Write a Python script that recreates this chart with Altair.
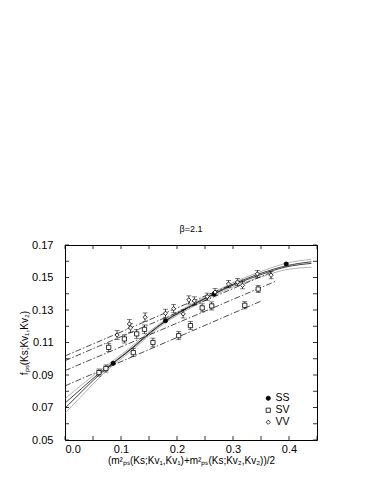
import altair as alt
import pandas as pd

# ---- data ----
ss_x = [0.086, 0.1795, 0.266, 0.395]
ss_y = [0.0972, 0.1234, 0.1399, 0.1583]

sv_x = [0.0606, 0.073, 0.078, 0.106, 0.122, 0.128, 0.142, 0.157, 0.203, 0.224, 0.245, 0.262, 0.321, 0.345]
sv_y = [0.0915, 0.094, 0.107, 0.1122, 0.1038, 0.1153, 0.1181, 0.110, 0.1142, 0.1204, 0.1313, 0.1325, 0.1329, 0.1429]
sv_e = [0.0022, 0.0022, 0.0025, 0.0025, 0.0025, 0.0027, 0.0027, 0.0027, 0.0025, 0.0025, 0.0025, 0.0025, 0.0022, 0.0022]

vv_x = [0.093, 0.115, 0.117, 0.143, 0.1795, 0.194, 0.211, 0.221, 0.231, 0.254, 0.268, 0.292, 0.308, 0.317, 0.3435, 0.368]
vv_y = [0.1146, 0.1214, 0.119, 0.1255, 0.128, 0.1308, 0.1276, 0.1362, 0.1356, 0.1382, 0.141, 0.146, 0.1472, 0.1452, 0.1522, 0.1514]
vv_e = [0.0027, 0.0027, 0.0027, 0.0027, 0.0025, 0.0025, 0.0025, 0.0025, 0.0025, 0.0022, 0.0022, 0.0022, 0.0022, 0.0022, 0.0022, 0.0022]

# fit curves through SS points
curve_x = [0.0, 0.03, 0.06, 0.086, 0.12, 0.15, 0.18, 0.22, 0.266, 0.30, 0.35, 0.395, 0.44]
curve_a = [0.0727, 0.0818, 0.0908, 0.0976, 0.1068, 0.1157, 0.1236, 0.1318, 0.1401, 0.1458, 0.1526, 0.1572, 0.1597]
curve_b = [0.0696, 0.0798, 0.0898, 0.0972, 0.1063, 0.1152, 0.1232, 0.1313, 0.1397, 0.1452, 0.1518, 0.1565, 0.1587]
band_hi = [0.0753, 0.0840, 0.0922, 0.0988, 0.1078, 0.1166, 0.1243, 0.1325, 0.1409, 0.1468, 0.1537, 0.1588, 0.1612]
band_lo = [0.0665, 0.0772, 0.0880, 0.0960, 0.1052, 0.1143, 0.1224, 0.1304, 0.1388, 0.1442, 0.1504, 0.1548, 0.1563]

# straight dash-dot fits (start x, start y, end x, end y)
lin_id = ["L1", "L1", "L2", "L2", "L3", "L3", "L4", "L4"]
lin_x = [0.0, 0.32, 0.0, 0.37, 0.0, 0.377, 0.0, 0.351]
lin_y = [0.1017, 0.149, 0.0988, 0.1535, 0.0927, 0.1478, 0.0833, 0.1356]

x_ticks = [0.0, 0.05, 0.1, 0.15, 0.2, 0.25, 0.3, 0.35, 0.4, 0.45]
y_ticks = [0.05, 0.06, 0.07, 0.08, 0.09, 0.10, 0.11, 0.12, 0.13, 0.14, 0.15, 0.16, 0.17]
x_labels = [0.0, 0.1, 0.2, 0.3, 0.4]
y_labels = [0.05, 0.07, 0.09, 0.11, 0.13, 0.15, 0.17]

W, H = 252, 195
FONT = "Liberation Sans"

pts = pd.DataFrame({
    "x": ss_x + sv_x + vv_x,
    "y": ss_y + sv_y + vv_y,
    "e": [0.0] * len(ss_x) + sv_e + vv_e,
    "type": ["SS"] * len(ss_x) + ["SV"] * len(sv_x) + ["VV"] * len(vv_x),
})
pts["lo"] = pts["y"] - pts["e"]
pts["hi"] = pts["y"] + pts["e"]
errs = pts[pts["e"] > 0]

curves = pd.DataFrame({
    "x": curve_x * 4,
    "y": curve_a + curve_b + band_hi + band_lo,
    "c": ["A"] * 13 + ["B"] * 13 + ["H"] * 13 + ["L"] * 13,
})
lines = pd.DataFrame({"x": lin_x, "y": lin_y, "id": lin_id})
xt = pd.DataFrame({"t": x_ticks})
yt = pd.DataFrame({"t": y_ticks})

xscale = alt.Scale(domain=[0, 0.45], nice=False, zero=False)
yscale = alt.Scale(domain=[0.05, 0.17], nice=False, zero=False)

xtitle = "(m²ₚₛ(Ks;Kv₁,Kv₁)+m²ₚₛ(Ks;Kv₂,Kv₂))/2"
ytitle = "fₚₛ(Ks;Kv₁,Kv₂)"

xaxis = alt.Axis(values=x_labels, format=".1f", domain=False, ticks=False, grid=False,
                 labelFont=FONT, labelFontSize=11, labelColor="black", labelPadding=3,
                 title=xtitle, titleFont=FONT, titleFontSize=10, titleFontWeight="normal",
                 titleColor="black", titlePadding=1)
yaxis = alt.Axis(values=y_labels, format=".2f", domain=False, ticks=False, grid=False,
                 labelFont=FONT, labelFontSize=11, labelColor="black", labelPadding=12,
                 title=ytitle, titleFont=FONT, titleFontSize=10, titleFontWeight="normal",
                 titleColor="black", titlePadding=2)


def X(f):
    return alt.X(f, type="quantitative", scale=xscale, axis=xaxis)


def Y(f):
    return alt.Y(f, type="quantitative", scale=yscale, axis=yaxis)


curve_layer = alt.Chart(curves).mark_line(interpolate="monotone").encode(
    x=X("x"), y=Y("y"), detail="c:N",
    strokeWidth=alt.condition("datum.c == 'A' || datum.c == 'B'", alt.value(0.8), alt.value(0.5)),
    stroke=alt.condition("datum.c == 'A' || datum.c == 'B'", alt.value("#111111"), alt.value("#666666")),
)

line_layer = alt.Chart(lines).mark_line(color="black", strokeWidth=0.7, strokeDash=[6, 2, 1.5, 2]).encode(
    x=X("x"), y=Y("y"), detail="id:N"
)

err_layer = alt.Chart(errs).mark_rule(color="black", strokeWidth=0.7).encode(
    x=X("x"), y=Y("lo"), y2="hi"
)
cap_lo = alt.Chart(errs).mark_tick(color="black", thickness=0.7, size=5, orient="horizontal").encode(
    x=X("x"), y=Y("lo")
)
cap_hi = alt.Chart(errs).mark_tick(color="black", thickness=0.7, size=5, orient="horizontal").encode(
    x=X("x"), y=Y("hi")
)

TYPES = ["SS", "SV", "VV"]
leg = alt.Legend(title=None, orient="none", legendX=198, legendY=148,
                 labelFont=FONT, labelFontSize=10.5, labelColor="black",
                 symbolSize=18, symbolStrokeColor="black", symbolStrokeWidth=0.8,
                 rowPadding=1, labelOffset=2)

point_layer = alt.Chart(pts).mark_point(filled=True, strokeWidth=0.8, opacity=1).encode(
    x=X("x"), y=Y("y"),
    shape=alt.Shape("type:N", scale=alt.Scale(domain=TYPES, range=["circle", "square", "diamond"]), legend=leg),
    fill=alt.Fill("type:N", scale=alt.Scale(domain=TYPES, range=["black", "white", "white"]), legend=leg),
    stroke=alt.Stroke("type:N", scale=alt.Scale(domain=TYPES, range=["black", "black", "black"]), legend=leg),
    size=alt.value(18),
)

tick_b = alt.Chart(xt).mark_rule(color="black", strokeWidth=0.8).encode(
    x=X("t"), y=alt.value(H), y2=alt.value(H - 4))
tick_t = alt.Chart(xt).mark_rule(color="black", strokeWidth=0.8).encode(
    x=X("t"), y=alt.value(0), y2=alt.value(4))
tick_l = alt.Chart(yt).mark_rule(color="black", strokeWidth=0.8).encode(
    y=Y("t"), x=alt.value(0), x2=alt.value(4))
tick_r = alt.Chart(yt).mark_rule(color="black", strokeWidth=0.8).encode(
    y=Y("t"), x=alt.value(W), x2=alt.value(W - 4))

chart = alt.layer(
    curve_layer, line_layer, err_layer, cap_lo, cap_hi, point_layer,
    tick_b, tick_t, tick_l, tick_r
).properties(
    width=W, height=H,
    title=alt.Title("β=2.1", font=FONT, fontSize=9, fontWeight="normal", color="black", offset=5),
    autosize=alt.AutoSizeParams(type="none"),
    padding={"left": 57, "top": 237, "right": 57, "bottom": 46},
    background="white",
).configure_view(
    stroke="black", strokeWidth=1
)

chart.save("out.html", embed_options={"renderer": "svg", "actions": False})
